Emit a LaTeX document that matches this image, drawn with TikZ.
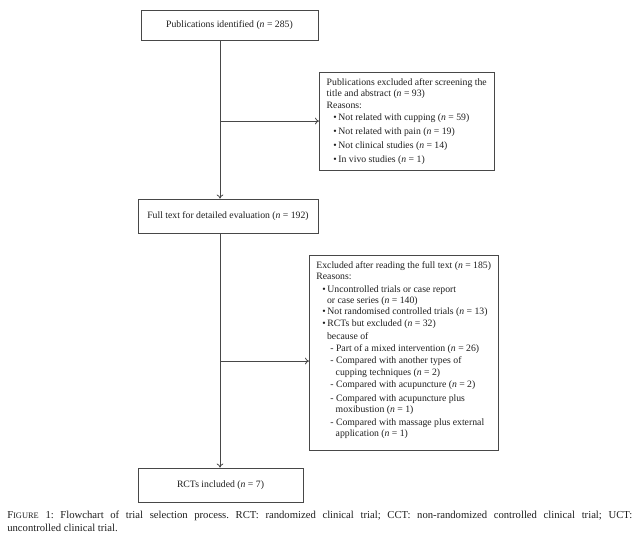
\documentclass[tikz,border=0pt]{standalone}
\usepackage{fontspec}
\setmainfont{Liberation Serif}
\usepackage{xcolor}
\definecolor{boxline}{RGB}{72, 72, 72}
\definecolor{inkcolor}{RGB}{30, 30, 30}
\newcommand{\nval}[1]{(\textit{n} = #1)}
\newcommand{\fakesc}[2]{{\fontsize{8}{9.5}\selectfont #1\fontsize{6.3}{9.5}\selectfont #2}}
\usepackage{tikz}
\usetikzlibrary{arrows.meta}

\begin{document}
\frenchspacing
\begin{tikzpicture}[
    x=0.75pt,y=-0.75pt,
    box/.style={draw=boxline,line width=0.6pt,inner sep=0pt,text=inkcolor,
      font=\fontsize{7.3}{8.3}\selectfont},
    reasons/.style={box,anchor=north west,align=left,inner xsep=5.5pt,inner ysep=4.5pt},
    flow/.style={draw=boxline,line width=0.6pt,-{To[length=3pt,width=5pt]}}
  ]
  \useasboundingbox (0,0) rectangle (640,544);
  \node[box,minimum width=132.75pt,minimum height=22.5pt] (ident) at (229.5,25)
    {Publications identified \nval{285}};
  \node[box,reasons] (screen) at (319,72)
    {Publications excluded after screening the\\[0.5pt]
     title and abstract \nval{93}\\
     Reasons:\\[1.2pt]
     \hspace*{5pt}\textbullet\,Not related with cupping \nval{59}\\[2.2pt]
     \hspace*{5pt}\textbullet\,Not related with pain \nval{19}\\[2.2pt]
     \hspace*{5pt}\textbullet\,Not clinical studies \nval{14}\\[2.2pt]
     \hspace*{5pt}\textbullet\,In vivo studies \nval{1}};
  \node[box,minimum width=135pt,minimum height=25.5pt] (full) at (228,216)
    {Full text for detailed evaluation \nval{192}};
  \node[box,reasons,inner xsep=5.25pt] (fulltext) at (309,255)
    {Excluded after reading the full text \nval{185}\\
     Reasons:\\[1.5pt]
     \hspace*{4.5pt}\textbullet\,Uncontrolled trials or case report\\
     \hspace*{8pt}or case series \nval{140}\\
     \hspace*{4.5pt}\textbullet\,Not randomised controlled trials \nval{13}\\[0.8pt]
     \hspace*{4.5pt}\textbullet\,RCTs but excluded \nval{32}\\[1.5pt]
     \hspace*{8pt}because of\\[0.8pt]
     \hspace*{10.5pt}- Part of a mixed intervention \nval{26}\\[0.8pt]
     \hspace*{10.5pt}- Compared with another types of\\
     \hspace*{14.5pt}cupping techniques \nval{2}\\[0.8pt]
     \hspace*{10.5pt}- Compared with acupuncture \nval{2}\\[2.2pt]
     \hspace*{10.5pt}- Compared with acupuncture plus\\
     \hspace*{14.5pt}moxibustion \nval{1}\\[1.5pt]
     \hspace*{10.5pt}- Compared with massage plus external\\
     \hspace*{14.5pt}application \nval{1}\\[-2pt]\mbox{}};
  \node[box,minimum width=123.75pt,minimum height=25.5pt] (rcts) at (220.5,485)
    {RCTs included \nval{7}};
  \node[anchor=north west,inner sep=0pt,text width=468.75pt,align=justify,text=inkcolor,
    font=\fontsize{8}{9.5}\selectfont] (caption) at (7,511)
    {\fakesc{F}{IGURE} 1: Flowchart of trial selection process. RCT: randomized clinical trial;
     CCT: non-randomized controlled clinical trial; UCT:\linebreak uncontrolled clinical trial.};
  % trunk of the flow at x = 220
  \coordinate (spine) at (220,0);
  \coordinate (fork1) at (220,121);
  \coordinate (fork2) at (220,361);
  \draw[flow] (spine |- ident.south) -- (spine |- full.north);
  \draw[flow] (fork1) -- (fork1 -| screen.west);
  \draw[flow] (spine |- full.south) -- (spine |- rcts.north);
  \draw[flow] (fork2) -- (fork2 -| fulltext.west);
\end{tikzpicture}
\end{document}
